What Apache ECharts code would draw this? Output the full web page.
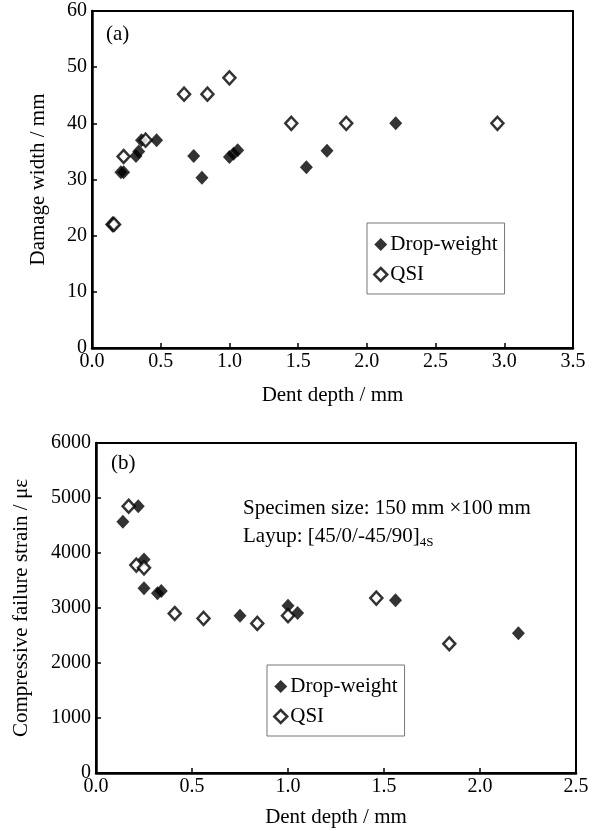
<!DOCTYPE html>
<html>
<head>
<meta charset="utf-8">
<script src="https://cdn.jsdelivr.net/npm/echarts@6/dist/echarts.min.js"></script>
<style>
html,body{margin:0;padding:0;background:#fff;}
#chart{width:600px;height:831px;}
</style>
</head>
<body>
<div id="chart"></div>
<script>
// Panel (a): dent depth (mm) vs damage width (mm)
var aDropX = [0.21, 0.23, 0.32, 0.34, 0.36, 0.47, 0.74, 0.80, 1.00, 1.03, 1.06, 1.56, 1.71, 2.21];
var aDropY = [31.3, 31.3, 34.2, 35.0, 37.0, 37.0, 34.2, 30.3, 34.0, 34.6, 35.2, 32.2, 35.1, 40.0];
var aQsiX = [0.15, 0.16, 0.23, 0.39, 0.67, 0.84, 1.00, 1.45, 1.85, 2.95];
var aQsiY = [22.0, 22.0, 34.1, 37.0, 45.2, 45.2, 48.1, 40.0, 40.0, 40.0];
// Panel (b): dent depth (mm) vs compressive failure strain (με)
var bDropX = [0.14, 0.22, 0.25, 0.25, 0.32, 0.34, 0.75, 1.00, 1.05, 1.56, 2.20];
var bDropY = [4570, 4850, 3880, 3360, 3270, 3310, 2860, 3040, 2910, 3140, 2540];
var bQsiX = [0.17, 0.21, 0.25, 0.41, 0.56, 0.84, 1.00, 1.46, 1.84];
var bQsiY = [4850, 3780, 3730, 2900, 2810, 2720, 2860, 3180, 2350];
// Axis ticks
var aXTicks = [0, 0.5, 1.0, 1.5, 2.0, 2.5, 3.0, 3.5];
var aYTicks = [0, 10, 20, 30, 40, 50, 60];
var bXTicks = [0, 0.5, 1.0, 1.5, 2.0, 2.5];
var bYTicks = [0, 1000, 2000, 3000, 4000, 5000, 6000];

var FONT = '"Liberation Serif","Times New Roman",serif';

function pairs(xs, ys){ return xs.map(function(x,i){ return [x, ys[i]]; }); }

function xAx(idx, ticks, gap){
  return {
    type:'value', gridIndex: idx,
    min: ticks[0], max: ticks[ticks.length-1], interval: ticks[1]-ticks[0],
    name: 'Dent depth / mm', nameLocation:'middle', nameGap: gap,
    nameTextStyle:{fontFamily:FONT, fontSize:21, color:'#000'},
    axisLine:{show:true, onZero:false, lineStyle:{color:'#000', width:2.5}},
    axisTick:{show:true, inside:true, length:5, lineStyle:{color:'#000', width:1.5}},
    axisLabel:{fontFamily:FONT, fontSize:20, color:'#000', margin:4,
      formatter:function(v){ return v.toFixed(1); }},
    splitLine:{show:false}
  };
}
function yAx(idx, ticks, name, gap){
  return {
    type:'value', gridIndex: idx,
    min: ticks[0], max: ticks[ticks.length-1], interval: ticks[1]-ticks[0],
    name: name, nameLocation:'middle', nameGap: gap, nameRotate: 90,
    nameTextStyle:{fontFamily:FONT, fontSize:21, color:'#000'},
    axisLine:{show:true, onZero:false, lineStyle:{color:'#000', width:2.5}},
    axisTick:{show:true, inside:true, length:5, lineStyle:{color:'#000', width:1.5}},
    axisLabel:{fontFamily:FONT, fontSize:20, color:'#000', margin:5,
      formatter:function(v){ return String(v); }},
    splitLine:{show:false}
  };
}
var filled = {color:'#000'};
var open = {color:'#fff', borderColor:'#000', borderWidth:2.5};

function legendAt(left, top){
  return {
    orient:'vertical', left:left, top:top,
    data:[{name:'Drop-weight'}, {name:'QSI', itemStyle:{color:'#fff', borderColor:'#000', borderWidth:2.5}}],
    borderColor:'#777', borderWidth:1, backgroundColor:'#fff',
    padding:[11,7,9,6], itemGap:9, itemWidth:13, itemHeight:13,
    textStyle:{fontFamily:FONT, fontSize:21, color:'#000', padding:[0,0,0,-2]},
    selectedMode:false
  };
}

var chart = echarts.init(document.getElementById('chart'), null, {renderer:'canvas'});
chart.setOption({
  animation:false,
  backgroundColor:'#fff',
  grid:[
    {left:92, top:11, width:481, height:337, show:true, borderColor:'#000', borderWidth:2, backgroundColor:'transparent'},
    {left:96, top:443, width:480, height:330, show:true, borderColor:'#000', borderWidth:2, backgroundColor:'transparent'}
  ],
  xAxis:[xAx(0, aXTicks, 37), xAx(1, bXTicks, 34)],
  yAxis:[yAx(0, aYTicks, 'Damage width / mm', 43), yAx(1, bYTicks, 'Compressive failure strain / με', 64)],
  legend:[legendAt(367, 223), legendAt(267, 665)],
  series:[
    {name:'Drop-weight', type:'scatter', xAxisIndex:0, yAxisIndex:0, symbol:'diamond', symbolSize:[13,14], itemStyle:filled, data:pairs(aDropX, aDropY)},
    {name:'QSI', type:'scatter', xAxisIndex:0, yAxisIndex:0, symbol:'diamond', symbolSize:[12,13], itemStyle:open, data:pairs(aQsiX, aQsiY)},
    {name:'Drop-weight', type:'scatter', xAxisIndex:1, yAxisIndex:1, symbol:'diamond', symbolSize:[13,14], itemStyle:filled, data:pairs(bDropX, bDropY)},
    {name:'QSI', type:'scatter', xAxisIndex:1, yAxisIndex:1, symbol:'diamond', symbolSize:[12,13], itemStyle:open, data:pairs(bQsiX, bQsiY)}
  ],
  graphic:[
    {type:'text', x:106, y:34, style:{text:'(a)', fontFamily:FONT, fontSize:21, fill:'#000', verticalAlign:'middle'}},
    {type:'text', x:111, y:463, style:{text:'(b)', fontFamily:FONT, fontSize:21, fill:'#000', verticalAlign:'middle'}},
    {type:'text', x:243, y:508, style:{text:'Specimen size: 150 mm ×100 mm', fontFamily:FONT, fontSize:21, fill:'#000', verticalAlign:'middle'}},
    {type:'text', x:243, y:536, style:{
      text:'{m|Layup: [45/0/-45/90]}{s|4S}', verticalAlign:'middle',
      rich:{
        m:{fontFamily:FONT, fontSize:21, fill:'#000', color:'#000', verticalAlign:'bottom'},
        s:{fontFamily:FONT, fontSize:13, fill:'#000', color:'#000', verticalAlign:'bottom', padding:[0,0,-3,0]}
      }}}
  ]
});
</script>
</body>
</html>
